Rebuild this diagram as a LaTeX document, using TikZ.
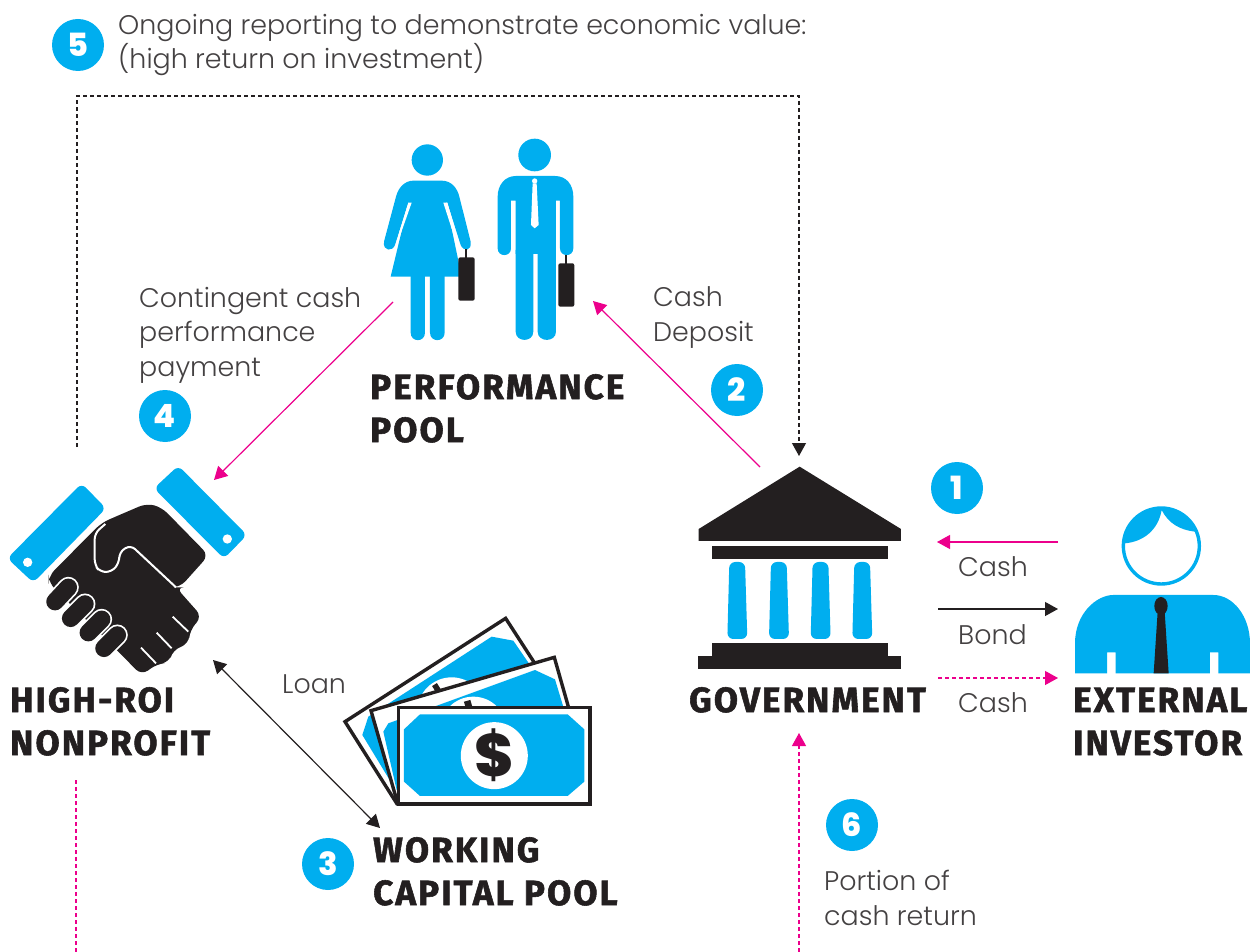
\documentclass[tikz,border=0pt]{standalone}
\usepackage{fontspec}
\usetikzlibrary{arrows.meta}
\newfontfamily\bodyf{Poppins Light}
\newfontfamily\headf{Fira Sans}[UprightFont=* Bold,FakeBold=1.6,LetterSpace=6]
\newfontfamily\digitf{Poppins}[UprightFont=* ExtraBold]
\definecolor{ink}{HTML}{231F20}
\definecolor{sky}{HTML}{00AEEF}
\definecolor{hot}{HTML}{EC008C}
\tikzset{
 x=1pt,y=-1pt,
 zoomed/.style={shift={#1},x=0.3333pt,y=-0.3333pt},
 tip/.style={-{Triangle[length=13pt,width=14pt]}},
 conn/.style={line width=1.2pt,tip},
 hotline/.style={conn,hot},
 inkline/.style={conn,ink},
 dots/.style={dash pattern=on 4pt off 3pt},
 body/.style={font=\bodyf\fontsize{26.9}{34.5}\selectfont,text=ink!85,inner sep=0,anchor=base west,align=left},
 head/.style={font=\headf\fontsize{35}{43}\selectfont,text=ink,inner sep=0,anchor=base west,align=left},
 badge/.style={circle,fill=sky,minimum size=52pt,inner sep=0,text=white,font=\digitf\fontsize{32}{32}\selectfont},
}
\begin{document}
\begin{tikzpicture}
\useasboundingbox (0,0) rectangle (1256,952);
% handshake
\begin{scope}[zoomed={(0,450)}]
 \fill[sky,rounded corners=6pt] (245,100)--(318,175)--(100,398)--(22,325)--cycle;
 \fill[sky,rounded corners=6pt] (535,47)--(741,255)--(672,326)--(462,115)--cycle;
 \fill[white] (83,337) circle (14); \fill[white] (682,267) circle (14);
 \fill[ink,rounded corners=8pt] (305,218)--(440,160)--(485,172)--(626,316)--(540,412)--(528,412)--(606,500)--(570,540)--(566,582)--(518,600)--(508,638)--(470,642)--(425,676)--(350,600)--(146,398)--(146,378)--cycle;
 \draw[white,line width=2pt,rounded corners=6pt] (316,222)--(284,250)--(284,345)--(300,366)--(335,366)--(358,338)--(358,306)--(392,285)--(528,412);
 \foreach \a/\b/\c/\d in {518/500/565/545, 470/548/515/595, 423/593/468/640}
   \draw[white,line width=1.8pt] (\a,\b)--(\c,\d);
 \foreach \a/\b/\c/\d in {165/455/205/412, 212/505/255/462, 265/548/305/508, 312/595/352/555}{
   \draw[white,line width=21pt,line cap=round] (\a,\b)--(\c,\d);
   \draw[ink,line width=17.5pt,line cap=round] (\a,\b)--(\c,\d);
 }
\end{scope}
% people
\begin{scope}[zoomed={(370,130)}]
 \fill[sky] (172,90) circle (47);
 \fill[sky] (120,200)--(62,440)--(275,440)--(225,200)--cycle;
 \fill[sky] (130,152)--(215,152) .. controls (245,152) and (262,175) .. (268,200)--(302,335) .. controls (306,365) and (280,365) .. (272,345)--(232,218)--(115,218)--(75,345) .. controls (68,365) and (38,365) .. (42,335)--(78,200) .. controls (85,172) and (105,152) .. (130,152)--cycle;
 \fill[sky] (122,430)--(122,608) .. controls (122,638) and (165,638) .. (165,608)--(165,430)--cycle;
 \fill[sky] (180,430)--(180,608) .. controls (180,638) and (224,638) .. (224,608)--(224,430)--cycle;
 \fill[white] (125,218)--(115,218)--(75,350)--(68,380)--cycle;
 \fill[white] (220,218)--(232,218)--(270,350)--(272,380)--cycle;
 \draw[ink,line width=2pt] (289,358)--(289,384);
 \fill[ink,rounded corners=2pt] (265,382) rectangle (314,512);
 \fill[sky] (494,75) circle (49);
 \fill[sky] (437,138)--(555,138) .. controls (590,138) and (610,165) .. (610,200)--(610,355) .. controls (610,382) and (570,382) .. (570,355)--(570,212)--(558,212)--(558,372)--(437,372)--(437,212)--(423,212)--(423,355) .. controls (423,382) and (383,382) .. (383,355)--(383,200) .. controls (383,165) and (405,138) .. (437,138)--cycle;
 \fill[sky] (437,360)--(490,360)--(490,605) .. controls (490,638) and (437,638) .. (437,605)--cycle;
 \fill[sky] (503,360)--(558,360)--(558,605) .. controls (558,638) and (503,638) .. (503,605)--cycle;
 \fill[sky] (437,360) rectangle (558,373);
 \fill[white] (494,153) circle (8);
 \fill[white] (488,160)--(500,160)--(506,285)--(494,295)--(483,285)--cycle;
 \draw[ink,line width=2pt] (589,375)--(589,402);
 \fill[ink,rounded corners=2pt] (565,400) rectangle (613,530);
\end{scope}
% money
\begin{scope}[zoomed={(335,610)}]
 \draw[ink,fill=white,line width=3.4pt] (30,335)--(512,25)--(690,300)--(185,580)--cycle;
 \fill[sky] (82,375)--(100,320)--(470,80)--(535,92)--(650,260)--(170,520)--cycle;
 \fill[white] (350,305) circle (103);
 \fill[ink,rotate around={32:(305,235)}] (297,222) rectangle (314,250);
 \draw[ink,fill=white,line width=3.4pt] (108,302)--(658,142)--(720,360)--(188,580)--cycle;
 \fill[sky] (145,365)--(160,340)--(600,180)--(660,208)--(700,340)--(185,540)--cycle;
 \fill[white] (415,360) circle (100);
 \fill[ink,rotate around={16:(400,285)}] (390,272) rectangle (410,300);
 \draw[ink,fill=white,line width=3.4pt] (190,292) rectangle (765,582);
 \fill[sky] (255,313)--(698,313)--(748,358)--(748,515)--(698,558)--(255,558)--(207,515)--(207,358)--cycle;
 \node[circle,fill=white,minimum size=67pt,inner sep=0,text=ink,font=\digitf\fontsize{60}{60}\selectfont] (dollar) at (478,437) {\$};
\end{scope}
% bank
\begin{scope}[zoomed={(690,460)}]
 \fill[ink] (329,20)--(633,207)--(633,243)--(26,243)--(26,207)--cycle;
 \fill[ink] (66,258) rectangle (594,297);
 \fill[ink] (66,549) rectangle (594,588);
 \fill[ink] (24,588) rectangle (633,627);
 \foreach \o in {0,125,250,375}
  \fill[sky,xshift=\o*0.3333pt,rounded corners=6pt] (118,306)--(165,306)--(172,537)--(112,537)--cycle;
\end{scope}
% investor
\begin{scope}[zoomed={(1060,500)}]
 \fill[sky] (195,130) .. controls (250,125) and (295,90) .. (305,30) .. controls (325,70) and (360,90) .. (405,95) .. controls (385,50) and (350,22) .. (304,22) .. controls (240,22) and (190,70) .. (195,130)--cycle;
 \draw[sky,line width=3.4pt] (304,138) circle (114);
 \fill[sky] (45,520)--(45,430) .. controls (45,340) and (110,285) .. (160,285)--(460,285) .. controls (520,285) and (570,350) .. (570,430)--(570,520)--(475,520)--(475,457)--(450,457)--(450,520)--(167,520)--(167,457)--(141,457)--(141,520)--cycle;
 \fill[ink] (293,335)--(314,335)--(326,520)--(281,520)--cycle;
 \fill[ink] (303,318) ellipse (20 and 27);
\end{scope}
% connector ends
\coordinate (reportStart) at (77,447);
\coordinate (reportA) at (77,96);
\coordinate (reportB) at (799,96);
\coordinate (govTop) at (799,456);
\coordinate (perfOut) at (393,302);
\coordinate (nonprofitIn) at (214,480);
\coordinate (govOut) at (760,467);
\coordinate (perfIn) at (593,301);
\coordinate (nonprofitLoan) at (213,660);
\coordinate (poolLoan) at (380,828);
\coordinate (invA) at (1058,542);
\coordinate (govA) at (937,542);
\coordinate (govB) at (938,609);
\coordinate (invB) at (1058,609);
\coordinate (govC) at (938,678);
\coordinate (invC) at (1058,678);
\coordinate (npOut) at (76,780);
\coordinate (npEnd) at (76,952);
\coordinate (govUpEnd) at (799,952);
\coordinate (govBottom) at (799,733);
\draw[inkline,dots] (reportStart)--(reportA)--(reportB)--(govTop);
\draw[hotline] (perfOut)--(nonprofitIn);
\draw[hotline] (govOut)--(perfIn);
\draw[conn,ink,{Triangle[length=13pt,width=14pt]}-{Triangle[length=13pt,width=14pt]}] (nonprofitLoan)--(poolLoan);
\draw[hotline] (invA)--(govA);
\draw[inkline] (govB)--(invB);
\draw[hotline,dots] (govC)--(invC);
\draw[hot,line width=1.2pt,dots] (npOut)--(npEnd);
\draw[hotline,dots] (govUpEnd)--(govBottom);
% badges
\node[badge] (b5) at (78,45) {5};
\node[badge] (b4) at (165,416) {4};
\node[badge] (b2) at (737,390) {2};
\node[badge] (b1) at (957,488) {1};
\node[badge] (b3) at (328,864) {3};
\node[badge] (b6) at (852,825) {6};
% text
\node[body] (t5) at (118,69) {Ongoing reporting to demonstrate economic value:\\(high return on investment)};
\node[body] (t4) at (139,376) {Contingent cash\\performance\\payment};
\node[body] (t2) at (653,341) {Cash\\Deposit};
\node[body] (tl) at (282,693) {Loan};
\node[body] (tc1) at (958,576) {Cash};
\node[body] (tb) at (958,644) {Bond};
\node[body] (tc2) at (958,712) {Cash};
\node[body] (t6) at (824,925) {Portion of\\cash return};
\node[head] (perf) at (370,442) {PERFORMANCE\\POOL};
\node[head] (gov) at (689,712) {GOVERNMENT};
\node[head] (inv) at (1073,755) {EXTERNAL\\INVESTOR};
\node[head] (np) at (10,755) {HIGH-ROI\\NONPROFIT};
\node[head] (wc) at (373,905) {WORKING\\CAPITAL POOL};
\end{tikzpicture}
\end{document}
